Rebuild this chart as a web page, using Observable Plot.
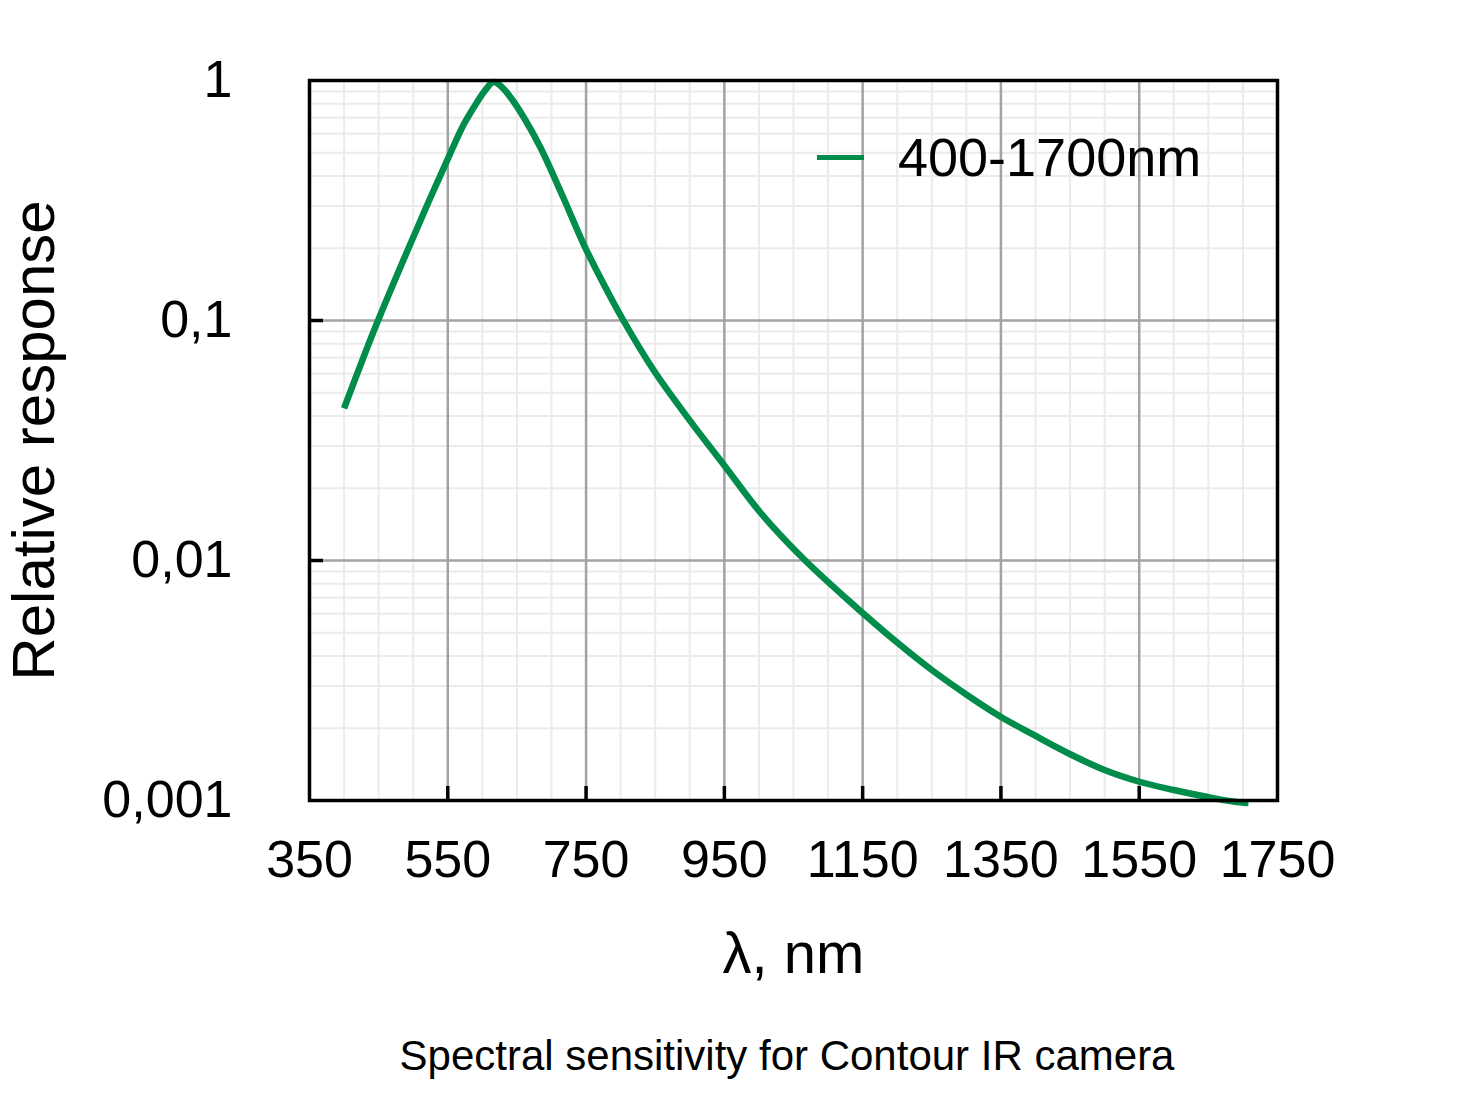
<!DOCTYPE html>
<html>
<head>
<meta charset="utf-8">
<script src="https://cdn.jsdelivr.net/npm/d3@7"></script>
<script src="https://cdn.jsdelivr.net/npm/@observablehq/plot@0.6"></script>
<style>
  html, body { margin: 0; padding: 0; background: #fff; }
  #wrap { position: relative; width: 1464px; height: 1096px; font-family: "Liberation Sans", Arial, Helvetica, sans-serif; }
  #legend { position: absolute; left: 817px; top: 127px; height: 60px; display: flex; align-items: center; font-size: 54px; color: #000; }
  #legend .sw { width: 47px; height: 5px; background: #008c4a; margin-right: 34px; }
  #caption { position: absolute; top: 1032px; left: 787px; transform: translateX(-50%); white-space: nowrap; font-size: 42px; color: #000; }
</style>
</head>
<body>
<div id="wrap">
  <div id="chart"></div>
  <div id="legend"><div class="sw"></div><span>400-1700nm</span></div>
  <div id="caption">Spectral sensitivity for Contour IR camera</div>
</div>
<script>
// Data (wavelength in nm, relative response)
const wavelength = [400, 445, 496, 525, 551, 573, 593, 604, 616, 628, 641, 660, 684, 717, 746, 775, 804, 848, 901, 950, 1002, 1064, 1128, 1200, 1251, 1302, 1349, 1397, 1451, 1498, 1549, 1600, 1649, 1686, 1708];
const response   = [0.043, 0.0935, 0.209, 0.3255, 0.478, 0.6555, 0.818, 0.91, 0.985, 0.94, 0.849, 0.701, 0.526, 0.3255, 0.2093, 0.1426, 0.1, 0.0619, 0.038, 0.02488, 0.01585, 0.01019, 0.00688, 0.00455, 0.00348, 0.00274, 0.00224, 0.00188, 0.001555, 0.001346, 0.0012, 0.001106, 0.001034, 0.00099, 0.000976];

const xTicks = [350, 550, 750, 950, 1150, 1350, 1550, 1750];
const xMajorGrid = [550, 750, 950, 1150, 1350, 1550];
const xMinorGrid = [400, 450, 500, 600, 650, 700, 800, 850, 900, 1000, 1050, 1100, 1200, 1250, 1300, 1400, 1450, 1500, 1600, 1650, 1700];
const yTicks = [1, 0.1, 0.01, 0.001];
const yTickLabels = ["1", "0,1", "0,01", "0,001"];
const yMajorGrid = [0.1, 0.01];
const yMinorGrid = [0.002, 0.003, 0.004, 0.005, 0.006, 0.007, 0.008, 0.009,
                    0.02, 0.03, 0.04, 0.05, 0.06, 0.07, 0.08, 0.09,
                    0.2, 0.3, 0.4, 0.5, 0.6, 0.7, 0.8, 0.9];

const data = wavelength.map((w, i) => ({w, r: response[i]}));

const chart = Plot.plot({
  width: 1464,
  height: 1010,
  marginLeft: 309,
  marginRight: 187,
  marginTop: 80,
  marginBottom: 210,
  style: {fontFamily: "'Liberation Sans', Arial, Helvetica, sans-serif", fontSize: "52px", color: "#000", background: "#fff", overflow: "visible"},
  x: {type: "linear", domain: [350, 1750]},
  y: {type: "log", domain: [0.001, 1]},
  marks: [
    Plot.ruleX(xMinorGrid, {stroke: "#ebebeb", strokeWidth: 2}),
    Plot.ruleY(yMinorGrid, {stroke: "#ebebeb", strokeWidth: 2}),
    Plot.ruleX(xMajorGrid, {stroke: "#a3a3a3", strokeWidth: 2.5}),
    Plot.ruleY(yMajorGrid, {stroke: "#a3a3a3", strokeWidth: 2.5}),
    // inward ticks
    Plot.ruleX(xMajorGrid, {y1: 0.001, y2: 0.001, insetBottom: 14, stroke: "#000", strokeWidth: 3.5}),
    Plot.ruleY(yMajorGrid, {x1: 350, x2: 350, insetRight: -14, stroke: "#000", strokeWidth: 3.5}),
    Plot.axisX({ticks: xTicks, tickSize: 0, tickPadding: 40, tickFormat: d => String(d), fontSize: 52, label: null}),
    Plot.axisY({ticks: yTicks, tickSize: 0, tickPadding: 77, tickFormat: d => yTickLabels[yTicks.indexOf(d)], fontSize: 52, label: null}),
    Plot.line(data, {x: "w", y: "r", stroke: "#008c4a", strokeWidth: 6.5, curve: "catmull-rom", strokeLinecap: "butt"}),
    Plot.frame({stroke: "#000", strokeWidth: 3.5}),
    Plot.text(["Relative response"], {frameAnchor: "left", dx: -275, rotate: -90, fontSize: 60, textAnchor: "middle", lineAnchor: "middle"}),
    Plot.text(["λ, nm"], {frameAnchor: "bottom", dy: 154, fontSize: 58, textAnchor: "middle", lineAnchor: "middle"})
  ]
});
document.getElementById("chart").appendChild(chart);
</script>
</body>
</html>
